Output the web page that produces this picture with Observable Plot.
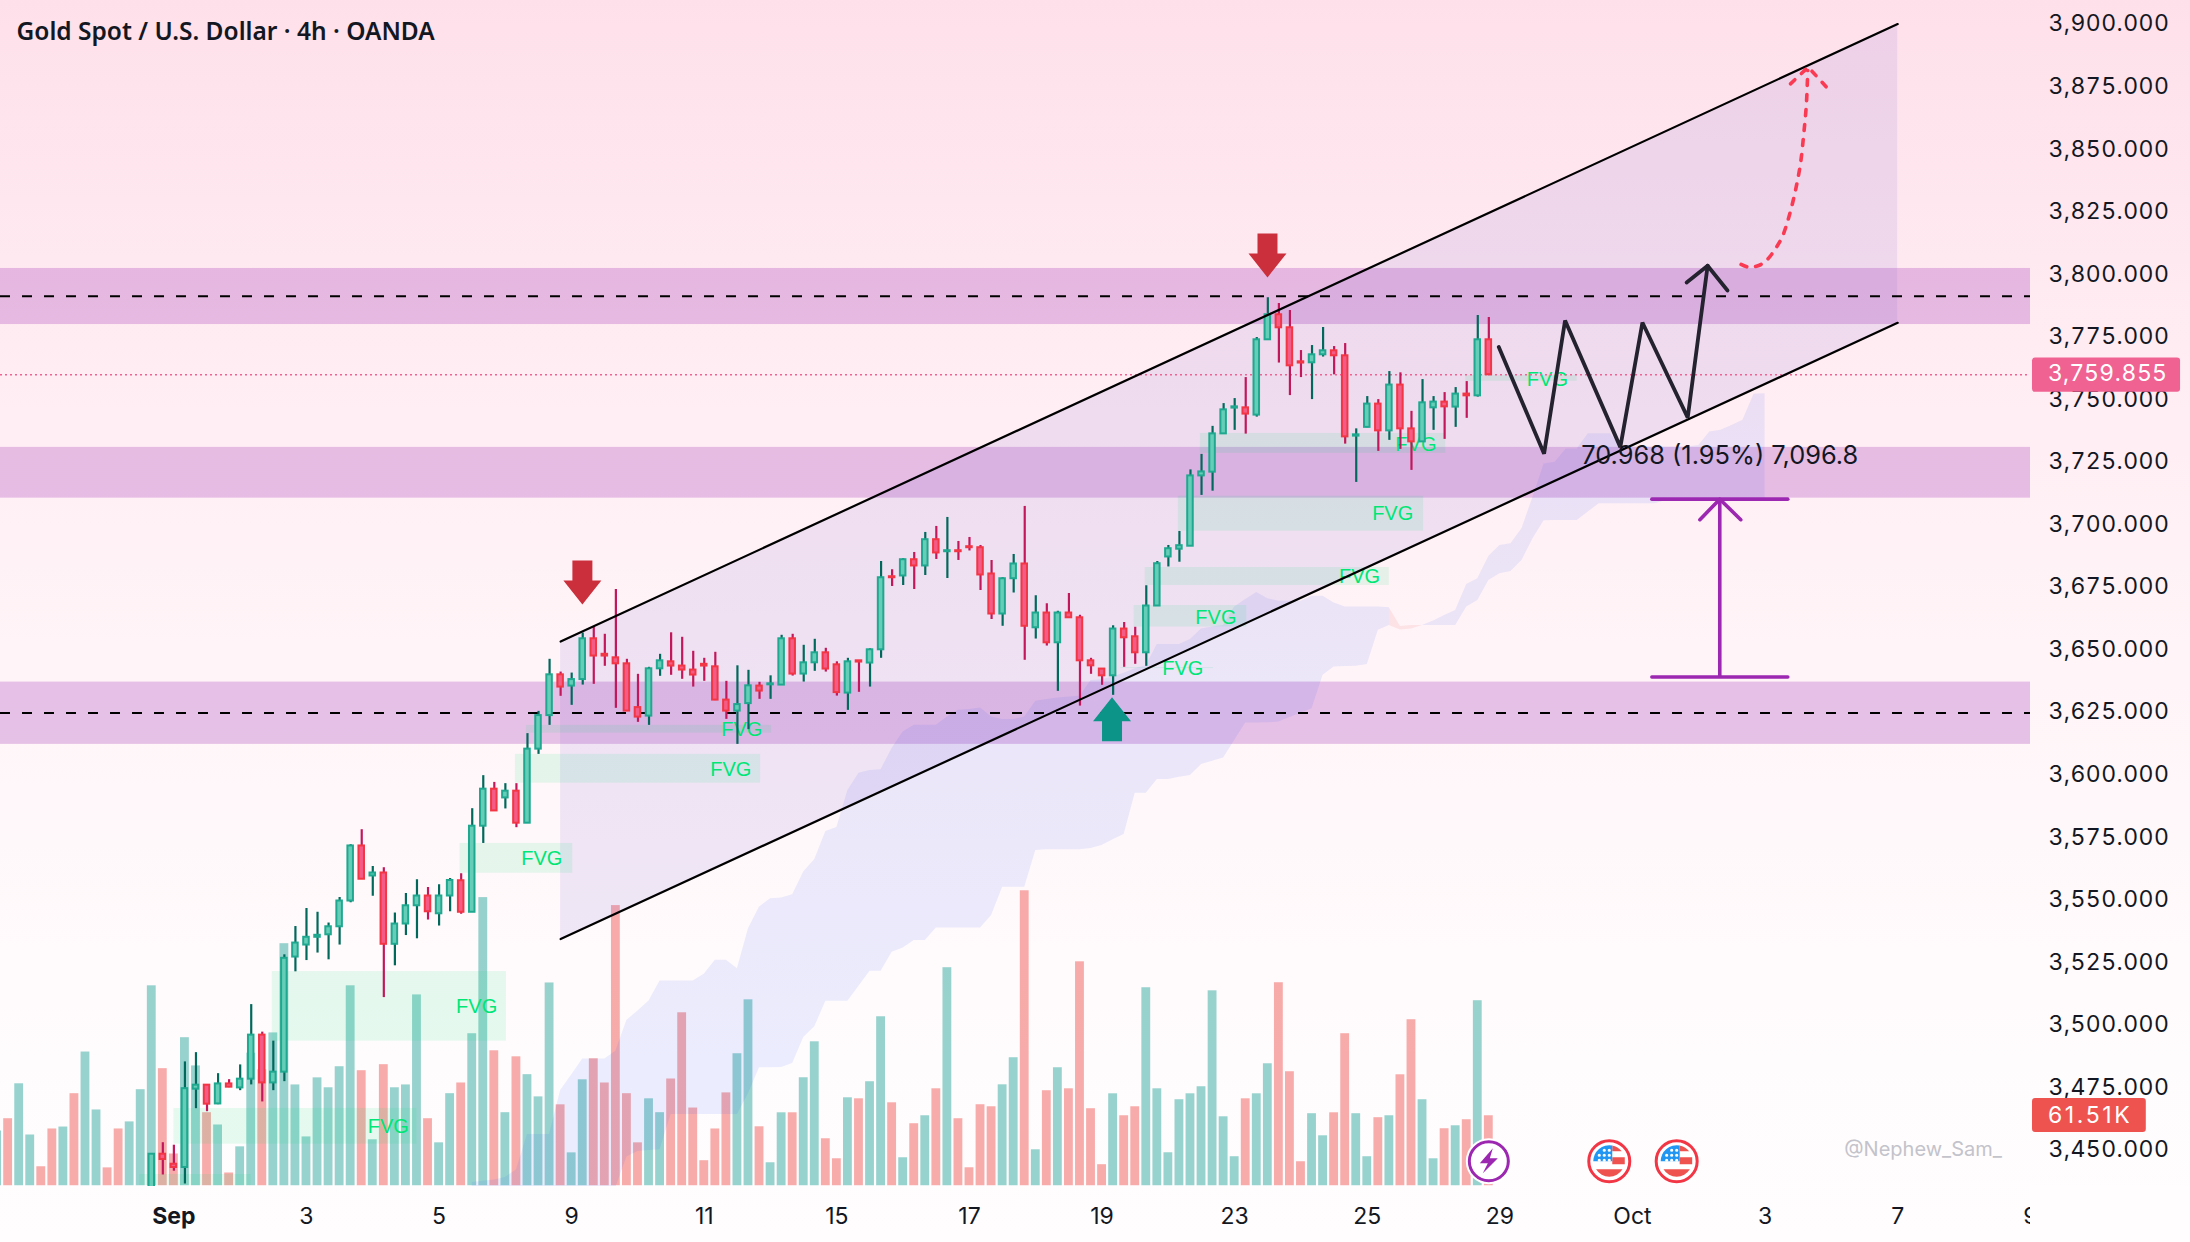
<!DOCTYPE html>
<html>
<head>
<meta charset="utf-8">
<style>
html,body{margin:0;padding:0;width:2190px;height:1242px;overflow:hidden;
background:linear-gradient(180deg,#fee0ea 0%,#ffedf3 30%,#fff5f8 55%,#fffcfd 85%,#fffdfe 100%);}
svg{display:block}
g[aria-label="y-axis tick label"] text{letter-spacing:.45px}
</style>
<script src="https://cdn.jsdelivr.net/npm/d3@7"></script>
<script src="https://cdn.jsdelivr.net/npm/@observablehq/plot@0.6"></script>
</head>
<body>
<div id="chart"></div>
<script>
const opens=[3430,3448.3,3444.3,3443,3474.3,3475.9,3468.4,3476.4,3474.8,3478.3,
3495.9,3476.8,3481.1,3527.1,3531.9,3535,3536,3539.2,3549.5,3571.5,
3559.5,3560.7,3532.2,3540.3,3547.6,3551.5,3544.4,3551.5,3557.6,3545,
3579.4,3594.2,3590.7,3593.4,3580.6,3610.2,3623.6,3639.9,3635.4,3638,
3654.3,3648.1,3646.7,3644.3,3626.8,3623.4,3642.3,3645.1,3643.4,3641.8,
3644.1,3643.1,3629.8,3625.4,3628.4,3635.4,3635.9,3635.8,3654.3,3640.2,
3644.7,3648.7,3643.9,3632.6,3645.5,3644.6,3649.9,3679.1,3679.4,3685.9,
3683.4,3693.9,3689.1,3689.5,3691.1,3690.7,3680.2,3664.2,3678.3,3684.2,
3658.7,3664.6,3652.7,3664.6,3662.7,3645.5,3642.2,3639.5,3658.2,3655.1,
3648.7,3667.4,3687,3690.1,3691.3,3719.4,3720.9,3736.2,3746.5,3746.6,
3743.7,3773.8,3783.8,3778.6,3765,3764.6,3767.8,3769.4,3767.4,3735.3,
3738.8,3748.1,3737.4,3755.7,3738.2,3733,3746.6,3748.9,3746.9,3752.1,3751.4,3773.8];
const highs=[3448.5,3452.9,3451.9,3485.2,3488.9,3476,3480.5,3478.1,3484,3508.1,
3497.1,3493.5,3528,3539.3,3546.5,3545,3540.7,3550.9,3572,3578,
3563.3,3562.8,3544.7,3552.5,3558,3554.9,3556,3558.5,3560.4,3586.4,
3599.6,3596.9,3596.4,3596.4,3616.4,3625.3,3646.1,3641,3640.6,3656.6,
3659,3656.1,3674,3646.1,3640.1,3642.9,3648.1,3656.7,3654.9,3649.3,
3646.5,3648.9,3637.3,3643.5,3641.7,3636.9,3639.5,3655.7,3656.1,3651.7,
3654.1,3650.5,3645.1,3646.5,3645.4,3650.3,3685.2,3681.9,3686.3,3688.8,
3696.8,3699.2,3702.8,3693.2,3694.8,3691.6,3685.6,3678.7,3688,3707.2,
3671.5,3668.3,3665.3,3672.4,3663.7,3646.5,3642.3,3659.5,3660.8,3658.9,
3675.5,3685.2,3691.6,3697.2,3721.8,3728,3739.2,3748.3,3750.3,3758.7,
3774.7,3790.6,3788.3,3785.5,3769.5,3771.5,3778.7,3771.1,3772.3,3738.2,
3751.1,3749.9,3761.1,3760.6,3745.2,3757.9,3751.1,3752.7,3754.7,3757.1,3783.5,3782.7];
const lows=[3425,3440,3441.5,3436.4,3466.5,3465.3,3468.1,3474.9,3473.7,3476,
3469.2,3473.7,3477.3,3521.2,3525.7,3528.7,3526,3531.9,3548.8,3558.2,
3551.4,3510.9,3523.6,3535.7,3534.4,3541.9,3539.5,3545.2,3544.2,3545,
3572.5,3585.5,3586.3,3578.8,3580.6,3608.1,3619.7,3631.3,3627.7,3635.8,
3636.1,3643.3,3626.5,3625.4,3620.9,3619.7,3639.3,3639.7,3638.1,3635,
3637.3,3629.6,3622.1,3612.1,3618,3630.1,3630.1,3635.7,3639.4,3637,
3641.3,3641,3631.4,3625.7,3632.9,3635,3646.5,3675.2,3675.6,3674,
3679.6,3686,3678.4,3685.6,3689.4,3673.6,3662,3659.3,3672.6,3645.7,
3654.2,3651.4,3633.3,3662.6,3627.4,3640.1,3635.7,3631.7,3642.9,3644.1,
3643.3,3667.4,3683,3684.9,3691.3,3711.6,3713.3,3736.2,3737.6,3736.1,
3742.9,3773.8,3764.5,3751.5,3758.7,3749.9,3766.9,3759.8,3732.1,3716.8,
3738.6,3729.2,3733.6,3730,3721.6,3732.9,3737.6,3734,3738.8,3742.4,3750.9,3759.4];
const closes=[3448.3,3446.2,3443,3474.5,3475.9,3468.3,3476.4,3475.1,3478.3,3495.9,
3476.8,3481.1,3526.6,3532.7,3535,3535.8,3539.2,3549.5,3571.5,3558.2,
3560.7,3532.2,3540.3,3547.6,3551.5,3545.2,3551.5,3557.7,3545,3579.4,
3594.2,3585.5,3593.4,3580.6,3610.2,3623.6,3639.9,3635,3638,3654.3,
3647.4,3647.4,3644.3,3625.4,3623,3642.3,3645.5,3643.4,3641.8,3639.8,
3643.4,3629.8,3625.4,3628,3635.5,3633.4,3636.3,3654.3,3640.2,3644.7,
3648.7,3642.2,3632.8,3645.1,3645,3649.9,3678.7,3678.7,3685.9,3683.4,
3693.9,3688.6,3689.5,3689.1,3690.7,3679.8,3664.2,3678.3,3684.2,3659.3,
3664.6,3652.7,3664.6,3662.7,3645.5,3643.5,3639.5,3658.2,3654.7,3648.7,
3667.4,3684.3,3690.3,3691.5,3719.4,3721,3736.2,3745.8,3747,3744.1,
3773.8,3783.8,3778.6,3763.4,3764.5,3767.8,3769.4,3767.4,3735,3735.8,
3748.1,3737.4,3755.7,3738.2,3733,3748.6,3748.9,3747,3752.1,3751.4,3773.8,3759.855];

// Volume (thousands): the 14 bars before the first visible candle, then one per candle
const earlyVolumes=[48.1,58.9,89.6,44.6,16.7,49.9,51.6,80.9,117.5,66.6,15.7,49.9,56.1,84.4];
const earlyVolumeUp=[1,0,1,1,0,0,1,0,1,1,0,0,1,1];
const volumes=[175.7,102.9,27.9,130.1,105.3,64.2,53.4,11.2,34.2,116.5,
102,134.3,212.7,88.6,42.9,94.8,86.1,104.6,175.7,101.1,
40.4,106.4,86.1,88.6,167.7,58.9,37.7,80.9,90.3,133.6,
253.2,118.6,64.2,113.3,97.6,78.1,178.2,71.1,28.9,93.1,
111.6,90.3,246.2,80.9,37.7,76.4,64.2,93.8,152,68.3,
22,49.9,81.6,116,163.4,51.8,20.2,64.1,64.1,94.9,
126.5,41.3,23.7,77.3,76.4,91.4,148.5,72.9,24.6,54.5,
61.5,85.2,191.6,58.9,15.8,71.2,69.4,88.7,112.5,259.2,
31.6,83.5,103.7,85.2,196.8,67.7,18.5,80.8,61.5,69.4,
174,85.2,29,75.6,80.8,87,171.3,60.6,25.5,76.4,
80.8,107.2,178.4,100.2,21.1,63.3,43.9,64.1,133.6,63.3,
25.5,59.8,61.5,97.5,145.9,75.6,23.7,50.1,52.7,58,162.6,61.51];

// Ichimoku cloud, first section starts at bar 29, second at bar 115
const cloudTopA=[3437,3437.5,3438,3439,3442,3456.2,3456.2,3456.2,3473.8,3480,3486.4,3486.4,3486.4,3489.5,3501.8,3505.5,3509.5,3517.5,3517.5,3517.5,3517.5,3520.2,3525.8,3525.8,3522.4,3538.4,3547.1,3550.4,3550.7,3552,3561.1,3566.1,3577.3,3578.9,3593.7,3600.6,3601.7,3602,3610.5,3617,3619.7,3619.7,3619.7,3623,3625.7,3626,3626.6,3623,3622,3622,3623,3629.3,3630,3630.6,3631,3631.3,3637.6,3637.9,3639,3640.5,3642.3,3643.6,3652,3652,3652,3654,3658.2,3659,3659.6,3667,3670,3672.8,3670.3,3669.3,3669.3,3669.3,3671.3,3671.3,3668.6,3667,3667,3667,3667,3666.7];
const cloudBottomA=[3435,3435,3435,3435,3435,3435,3435,3435,3435,3435,3435,3435,3435,3435,3447.2,3449.4,3449.8,3450.1,3464.2,3464.2,3464.2,3464.2,3464.2,3464.2,3464.2,3472.5,3482.9,3482.9,3483,3484.6,3494.9,3499.2,3509.4,3509.4,3509.4,3515.4,3521.4,3521.4,3529,3530.7,3533.7,3533.7,3538.7,3538.7,3538.7,3538.7,3538.7,3543.7,3555,3555,3555,3569.7,3570,3570,3570,3570,3570.5,3571.7,3574,3576.1,3592.6,3592.6,3598.1,3598.1,3599,3599.7,3604.1,3605.4,3606.7,3613.6,3620.6,3620.6,3620.7,3621,3622.8,3624.5,3626.3,3639.7,3643,3643.2,3643.3,3644,3657.7,3659.6];
const cloudTopB=[3659.6,3661.4,3663.6,3665.6,3676,3678.3,3687.2,3691.6,3692.3,3698.3,3710.9,3724.2,3724.9,3730.2,3730.2,3736.2,3736.2,3736.2,3731,3731,3731,3731,3731,3731,3731,3731.6,3736.9,3737.6,3739.5,3741.6,3752,3752.2];
const cloudBottomB=[3659.6,3659.6,3659.6,3659.6,3667,3669.6,3677.6,3680.3,3681.2,3685.6,3694.3,3701.5,3701.6,3701.6,3701.6,3705,3708.3,3708.3,3708.3,3708.3,3708.3,3708.3,3709.5,3709.5,3709.5,3709.5,3709.5,3709.5,3709.5,3709.5,3709.5,3709.5];
const twistIndex=[112,113,114,115];
const twistTop=[3666.7,3659.2,3659.6,3659.6];
const twistBottom=[3659.6,3657.8,3658.2,3659.6];

const bandLow=[3779.9,3710.5,3612.1];
const bandHigh=[3802.3,3730.8,3637];
const dashedLevels=[3791.2,3624.6];
const currentPrice=3759.855;

const channelIndex=[37,158];
const channelUpper=[3653.2,3900];
const channelLower=[3534.3,3780.6];

const fvgStart=[33.9,32.9,27.9,10.9,2,-1.1,94.9,92.9,89.9,88.9,87.7,118.9];
const fvgEnd=[56.1,55.1,38.1,32.1,24,9,117.1,115.1,112,99.1,96.1,129];
const fvgLow=[3616.6,3596.6,3560.6,3493.5,3452.3,3435.8,3728.4,3697.3,3675.6,3659,3642.4,3757.2];
const fvgHigh=[3619.7,3608.1,3572.5,3521.3,3466.6,3440.2,3736.4,3711.3,3682.8,3667.6,3642.8,3759.6];
const fvgLabelIndex=[53.4,52.4,35.3,29.4,21.4,114.4,112.3,109.3,96.3,93.3,126.3];
const fvgLabelPrice=[3618,3602,3566.6,3507.5,3459.4,3732,3704.4,3679.2,3662.8,3642.4,3758];

const zigzagIndex=[121.9,126,127.9,132.9,134.9,139,140.8];
const zigzagPrice=[3770.9,3728.3,3781.5,3730.9,3780.7,3742.7,3803.4];
const zigzagHeadIndex=[138.9,140.8,142.6];
const zigzagHeadPrice=[3796.7,3803.4,3793.5];

const curveIndex=[143.83,144.52,145.43,146.18,146.94,147.54,148.15,148.75,149.2,149.5,149.74,149.86];
const curvePrice=[3803.9,3802.8,3803.5,3805.8,3810.2,3814.8,3822.8,3833.5,3844.1,3856.1,3868.1,3881.4];
const curveHeadIndex=[148.3,149.9,151.7];
const curveHeadPrice=[3876.1,3882.8,3874.1];

const measureLeft=135.8, measureRight=148.1, measureCenter=141.9;
const measureTop=3710.1, measureBottom=3639;
const measureHeadIndex=[140.1,141.9,143.8];
const measureHeadPrice=[3701.9,3710.1,3701.9];
const measureLabel="70.968 (1.95%) 7,096.8";

const xTickIndex=[2,14,26,38,50,62,74,86,98,110,122,134,146,158,170];
const xTickLabels=["Sep","3","5","9","11","15","17","19","23","25","29","Oct","3","7","9"];
const priceTicks=d3.range(3450,3901,25);

const candles=opens.map((o,i)=>({i,o,h:highs[i],l:lows[i],c:closes[i],up:closes[i]>=o}));
const volumeBars=[...earlyVolumes.map((v,k)=>({i:k-14,v,up:!!earlyVolumeUp[k]})),
                  ...volumes.map((v,i)=>({i,v,up:closes[i]>=opens[i]}))];
const cloudA=cloudTopA.map((t,k)=>({i:29+k,t,b:cloudBottomA[k]}));
const cloudB=cloudTopB.map((t,k)=>({i:115+k,t,b:cloudBottomB[k]}));
const twist=twistIndex.map((i,k)=>({i,t:twistTop[k],b:twistBottom[k]}));
const bands=bandLow.map((l,k)=>({l,h:bandHigh[k]}));
const channel=channelIndex.map((i,k)=>({i,u:channelUpper[k],l:channelLower[k]}));
const fvgs=fvgStart.map((s,k)=>({s,e:fvgEnd[k],l:fvgLow[k],h:fvgHigh[k]}));
const fvgLabels=fvgLabelIndex.map((i,k)=>({i,p:fvgLabelPrice[k]}));
const zip=(a,b)=>a.map((x,k)=>[x,b[k]]);
const xTicks=xTickIndex.map((i,k)=>({i,label:xTickLabels[k]}));

// Volume pane shares the frame: bars rise from the pane floor in proportion to volume
const volumeFloor=3435.7, volumeToPrice=0.4548;
const volY=v=>volumeFloor+v*volumeToPrice;

const GREEN_EDGE="#1fa88f",GREEN_FILL="#66ceb8",GREEN_WICK="#00695c";
const RED_EDGE="#f23645",RED_FILL="#f45b86",RED_WICK="#c2185b";
const FONT="Inter, 'Liberation Sans', sans-serif";

const poly=pts=>({draw(c){pts.forEach(([x,y],k)=>k?c.lineTo(x,y):c.moveTo(x,y));c.closePath();}});
const arrowDown=poly([[-10,-22],[10,-22],[10,-2],[19,-2],[0,22],[-19,-2],[-10,-2]]);
const arrowUp=poly([[0,-22],[19,2],[10,2],[10,22],[-10,22],[-10,2],[-19,2]]);
const bolt=poly([[4,-13],[-9,2],[-1,2],[-6,12],[9,-3],[1,-3]]);
const flagCanton={draw(c){c.moveTo(3,0);c.lineTo(3,-15.5);c.arc(0,0,16,-Math.PI/2+0.18,Math.PI,true);c.closePath();}};
const flagStripes={draw(c){
  c.moveTo(3,-4);c.lineTo(15.5,-4);c.lineTo(15.5,3);c.lineTo(3,3);c.closePath();
  c.moveTo(-13,8);c.lineTo(13,8);c.arc(0,0,15.5,0.55,Math.PI-0.55);c.closePath();}};
const flagTop={draw(c){c.moveTo(3,-10);c.lineTo(12.5,-10);c.arc(0,0,16,-0.67,-1.4,true);c.lineTo(3,-15.5);c.closePath();}};
const flagStars={draw(c){
  for(const [x,y] of [[-10,-1],[-5,-1],[0,-1],[-10,-6],[-5,-6],[0,-6],[-5,-11],[0,-11]]){
    c.moveTo(x+1.6,y);c.arc(x,y,1.6,0,2*Math.PI);
  }}};

const eventBolt=[{i:121,p:3445.5}];
const eventFlags=[{i:131.9,p:3445.5},{i:138,p:3445.5}];

const chart=Plot.plot({
  width:2190,height:1242,marginLeft:0,marginRight:160,marginTop:0,marginBottom:56,
  style:{background:"transparent",fontFamily:FONT,fontSize:"23px",color:"#131722",overflow:"visible"},
  x:{domain:[-13.69,170.02],axis:null},
  y:{domain:[3435.4,3909.4],axis:null},
  marks:[
    // Supply and demand zones
    Plot.rect(bands,{x1:-13.69,x2:170.02,y1:"l",y2:"h",fill:"#ab47bc",fillOpacity:0.3}),
    // Volume
    Plot.rect(volumeBars,{x1:d=>d.i-0.4,x2:d=>d.i+0.4,y1:volumeFloor,y2:d=>volY(d.v),
      fill:d=>d.up?"#26a69a":"#ef5350",fillOpacity:0.48,clip:true}),
    // Cloud
    Plot.areaY(cloudA,{x:"i",y1:"b",y2:"t",fill:"#2f50ff",fillOpacity:0.095,clip:true}),
    Plot.areaY(cloudB,{x:"i",y1:"b",y2:"t",fill:"#2f50ff",fillOpacity:0.095,clip:true}),
    Plot.areaY(twist,{x:"i",y1:"b",y2:"t",fill:"#ef5350",fillOpacity:0.1,clip:true}),
    // Channel fill
    Plot.areaY(channel,{x:"i",y1:"l",y2:"u",fill:"#9479d4",fillOpacity:0.15}),
    // Fair value gaps
    Plot.rect(fvgs,{x1:"s",x2:"e",y1:"l",y2:"h",fill:"#00e676",fillOpacity:0.1,clip:true}),
    Plot.text(fvgLabels,{x:"i",y:"p",text:()=>"FVG",fill:"#00e676",fontSize:20,fontFamily:"'Liberation Sans',sans-serif"}),
    // Levels
    Plot.ruleY(dashedLevels,{stroke:"#000",strokeWidth:2,strokeDasharray:"10 12",x1:-13.69,x2:170.02}),
    Plot.ruleY([currentPrice],{stroke:"#f06292",strokeWidth:1.6,strokeDasharray:"2 3",x1:-13.69,x2:170.02}),
    // Candles
    Plot.ruleX(candles,{x:"i",y1:"l",y2:"h",stroke:d=>d.up?GREEN_WICK:RED_WICK,strokeWidth:2.2,clip:true}),
    Plot.rect(candles,{x1:d=>d.i-0.25,x2:d=>d.i+0.25,y1:"o",y2:"c",
      fill:d=>d.up?GREEN_FILL:RED_FILL,stroke:d=>d.up?GREEN_EDGE:RED_EDGE,strokeWidth:2,clip:true}),
    // Channel lines
    Plot.line(channel,{x:"i",y:"u",stroke:"#000",strokeWidth:2.2}),
    Plot.line(channel,{x:"i",y:"l",stroke:"#000",strokeWidth:2.2}),
    // Arrows
    Plot.dot([{i:38.97,p:3676.8},{i:100.97,p:3807.5}],{x:"i",y:"p",symbol:arrowDown,r:10,fill:"#cc2f3c"}),
    Plot.dot([{i:86.9,p:3622.1}],{x:"i",y:"p",symbol:arrowUp,r:10,fill:"#0d9488"}),
    // Projected path
    Plot.line(zip(zigzagIndex,zigzagPrice),{stroke:"#24222f",strokeWidth:3.8,strokeLinejoin:"miter",strokeLinecap:"round"}),
    Plot.line(zip(zigzagHeadIndex,zigzagHeadPrice),{stroke:"#24222f",strokeWidth:3.8,strokeLinecap:"round"}),
    Plot.line(zip(curveIndex,curvePrice),{curve:"catmull-rom",stroke:"#f93a52",strokeWidth:3.6,strokeDasharray:"6 9",strokeLinecap:"round"}),
    Plot.line(zip(curveHeadIndex,curveHeadPrice),{stroke:"#f93a52",strokeWidth:3.6,strokeDasharray:"6 9",strokeLinecap:"round"}),
    // Measure tool
    Plot.ruleY([measureTop,measureBottom],{x1:measureLeft,x2:measureRight,stroke:"#9c27b0",strokeWidth:3.6,strokeLinecap:"round"}),
    Plot.ruleX([measureCenter],{y1:measureBottom,y2:measureTop,stroke:"#9c27b0",strokeWidth:3.6}),
    Plot.line(zip(measureHeadIndex,measureHeadPrice),{stroke:"#9c27b0",strokeWidth:3.6,strokeLinecap:"round"}),
    Plot.text([measureLabel],{x:measureCenter,y:3727.6,fill:"#131722",fontSize:25.4}),
    // Event markers
    Plot.dot(eventBolt,{x:"i",y:"p",r:20,fill:"#fff",stroke:"#fff",strokeWidth:6}),
    Plot.dot(eventBolt,{x:"i",y:"p",r:19.5,fill:"#fff",stroke:"#9c27b0",strokeWidth:3}),
    Plot.dot(eventBolt,{x:"i",y:"p",symbol:bolt,r:10,fill:"#9c27b0"}),
    Plot.dot(eventFlags,{x:"i",y:"p",r:20.5,fill:"#fff",stroke:"#f23645",strokeWidth:3}),
    Plot.dot(eventFlags,{x:"i",y:"p",symbol:flagStripes,r:10,fill:"#ef5350"}),
    Plot.dot(eventFlags,{x:"i",y:"p",symbol:flagTop,r:10,fill:"#ef5350"}),
    Plot.dot(eventFlags,{x:"i",y:"p",symbol:flagCanton,r:10,fill:"#2196f3"}),
    Plot.dot(eventFlags,{x:"i",y:"p",symbol:flagStars,r:10,fill:"#fff"}),
    // Watermark
    Plot.text(["@Nephew_Sam_"],{x:160.3,y:3450,fill:"#c3c3cb",fontSize:20}),
    // Axes
    Plot.axisY({anchor:"right",ticks:priceTicks,tickFormat:d3.format(",.3f"),tickSize:0,tickPadding:18,label:null,fill:"#131722"}),
    Plot.text(xTicks.filter(d=>d.label!=="Sep"),{x:"i",text:"label",frameAnchor:"bottom",dy:37,fill:"#131722",fontSize:23}),
    Plot.text(xTicks.filter(d=>d.label==="Sep"),{x:"i",text:"label",frameAnchor:"bottom",dy:37,fill:"#131722",fontSize:23,fontWeight:700}),
    Plot.rect([{}],{x1:170.02,x2:186,y1:3400,y2:3435.4,fill:"#fffdfe"}),
    // Price badges
    Plot.rect([{}],{x1:170.2,x2:183.6,y1:3752.8,y2:3766.5,fill:"#f06292",rx:3}),
    Plot.text(["3,759.855"],{x:171.6,y:3760.4,textAnchor:"start",fill:"#fff",fontSize:23}),
    Plot.rect([{}],{x1:170.2,x2:180.5,y1:3457,y2:3470.6,fill:"#ef5350",rx:3}),
    Plot.text(["61.51K"],{x:171.6,y:3463.8,textAnchor:"start",fill:"#fff",fontSize:23}),
    // Title
    Plot.text(["Gold Spot / U.S. Dollar · 4h · OANDA"],{frameAnchor:"top-left",dx:16,dy:32,lineAnchor:"middle",
      textAnchor:"start",fill:"#131722",fontSize:24.5,fontWeight:600,fontFamily:"'Noto Sans',sans-serif"})
  ]
});
document.getElementById("chart").append(chart);
chart.querySelectorAll("text").forEach(t=>{
  if(t.textContent==="3,759.855") t.style.letterSpacing="1.2px";
  if(t.textContent==="61.51K") t.style.letterSpacing="2.6px";
});
</script>
</body>
</html>
